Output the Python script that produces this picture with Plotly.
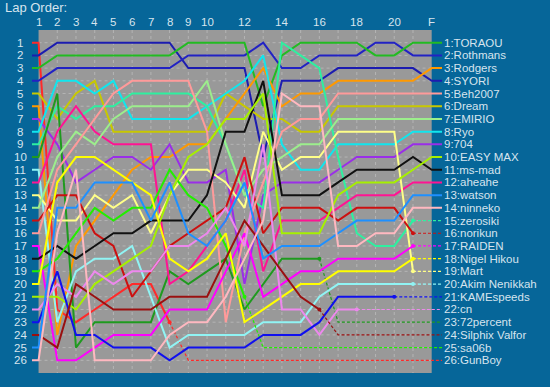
import plotly.graph_objects as go

# ---------------- data ----------------
col_labels = ['1', '2', '3', '4', '5', '6', '7', '8', '9', '10', '', '12', '', '14', '', '16', '', '18', '', '20', '', 'F']
row_labels = [str(i) for i in range(1, 27)]

final_names = ['TORAOU', 'Rothmans', 'Rodgers', 'SYORI', 'Beh2007', 'Dream', 'EMIRIO', 'Ryo', '704',
               'EASY MAX', 'ms-mad', 'aheahe', 'watson', 'ninneko', 'zerosiki', 'norikun', 'RAIDEN',
               'Nigel Hikou', 'Mart', 'Akim Nenikkah', 'KAMEspeeds', 'cn', '72percent', 'Silphix Valfor',
               'sa06b', 'GunBoy']

# positions per lap column (shorter lists = retired)
GunBoy = [1, 22, 23, 22, 21, 20, 20, 23]
SYORI = [2, 1, 1, 1, 1, 1, 1, 1, 3, 3, 3, 3, 10, 4, 4, 4, 3, 3, 3, 3, 3, 4]
Rothmans = [4, 3, 3, 3, 3, 3, 3, 3, 2, 2, 2, 2, 1, 3, 3, 2, 2, 2, 1, 1, 2, 2]
TORAOU = [3, 2, 2, 2, 2, 2, 2, 2, 1, 1, 1, 1, 6, 2, 1, 1, 1, 1, 2, 2, 1, 1]
Dream = [5, 7, 5, 4, 8, 8, 8, 8, 8, 8, 5, 6, 7, 7, 8, 8, 6, 6, 6, 6, 6, 6]
Rodgers = [6, 24, 17, 15, 13, 11, 10, 10, 9, 9, 7, 5, 3, 6, 5, 5, 4, 4, 4, 4, 4, 3]
P704 = [7, 9, 12, 11, 10, 10, 11, 9, 12, 12, 11, 20, 13, 12, 12, 12, 11, 10, 10, 10, 9, 9]
Ryo = [8, 4, 4, 5, 4, 7, 7, 7, 7, 6, 5, 4, 2, 9, 11, 11, 9, 9, 9, 9, 8, 8]
zerosiki = [9, 6, 7, 6, 6, 5, 5, 5, 5, 6, 9, 13, 14, 1, 2, 3, 10, 16, 17, 17, 15]
p72percent = [10, 5, 25, 23, 23, 23, 23, 19, 20, 19, 18, 22, 20, 18, 18, 18]
Akim = [11, 23, 19, 18, 18, 17, 21, 25, 24, 24, 24, 24, 23, 23, 23, 21, 20, 20, 20, 20, 20]
aheahe = [12, 8, 6, 8, 9, 9, 9, 20, 19, 17, 15, 11, 19, 15, 15, 15, 14, 13, 13, 13, 12, 12]
Mart = [13, 15, 15, 13, 14, 13, 16, 13, 11, 11, 12, 14, 8, 11, 10, 10, 8, 8, 8, 8, 19]
EMIRIO = [14, 10, 8, 9, 7, 6, 6, 6, 6, 4, 9, 13, 11, 10, 9, 9, 7, 7, 7, 7, 7, 7]
norikun = [15, 13, 13, 16, 17, 21, 19, 17, 16, 15, 14, 10, 16, 14, 14, 14, 15, 14, 14, 14, 16]
Beh2007 = [16, 11, 9, 7, 5, 4, 4, 4, 4, 8, 23, 16, 12, 8, 7, 7, 5, 5, 5, 5, 5, 5]
RAIDEN = [17, 26, 26, 25, 24, 24, 24, 22, 22, 22, 19, 16, 21, 20, 19, 19, 18, 18, 18, 18, 17]
msmad = [18, 17, 18, 17, 16, 16, 15, 15, 15, 13, 8, 8, 4, 13, 13, 13, 12, 11, 11, 11, 10, 11]
sa06b = [19, 18, 16, 14, 15, 14, 14, 11, 13, 14, 17, 21]
Nigel = [20, 12, 10, 10, 11, 12, 13, 18, 19, 18, 16, 23, 22, 21, 20, 20, 19, 19, 19, 19, 18]
EASYMAX = [21, 21, 22, 20, 19, 18, 17, 13, 10, 9, 7, 7, 5, 16, 16, 16, 13, 12, 12, 12, 11, 10]
cn = [22, 20, 21, 19, 20, 19, 19, 17, 17, 16, 14, 17, 9, 22, 22, 24, 22, 22]
KAME = [23, 19, 24, 24, 25, 25, 25, 26, 25, 25, 25, 25, 24, 24, 24, 23, 21, 21, 21, 21]
Silphix = [24, 25, 20, 21, 22, 22, 22, 21, 21, 21, 18, 15, 17, 19, 21, 22]
watson = [25, 14, 14, 12, 12, 12, 15, 12, 16, 17, 15, 12, 18, 17, 17, 17, 16, 15, 15, 15, 13, 13]
ninneko = [26, 16, 11, 26, 26, 26, 26, 24, 23, 23, 21, 18, 15, 5, 6, 6, 17, 17, 16, 16, 14, 14]

drivers = [
    ('GunBoy', '#ff2a2a', GunBoy),
    ('SYORI', '#1c1cb0', SYORI),
    ('Rothmans', '#2222c4', Rothmans),
    ('TORAOU', '#22bb22', TORAOU),
    ('Dream', '#c8c800', Dream),
    ('Rodgers', '#ff9900', Rodgers),
    ('704', '#9a2ee8', P704),
    ('Ryo', '#10e6ee', Ryo),
    ('zerosiki', '#2ef0a0', zerosiki),
    ('72percent', '#1f9a1f', p72percent),
    ('Akim Nenikkah', '#90f4f4', Akim),
    ('aheahe', '#ff1493', aheahe),
    ('Mart', '#ffff88', Mart),
    ('EMIRIO', '#9cee8c', EMIRIO),
    ('norikun', '#cc1010', norikun),
    ('Beh2007', '#ff9a9a', Beh2007),
    ('RAIDEN', '#ff00ff', RAIDEN),
    ('ms-mad', '#111111', msmad),
    ('sa06b', '#22ee00', sa06b),
    ('Nigel Hikou', '#ffff00', Nigel),
    ('EASY MAX', '#a6f000', EASYMAX),
    ('cn', '#ee88ee', cn),
    ('KAMEspeeds', '#1010ee', KAME),
    ('Silphix Valfor', '#9a1010', Silphix),
    ('watson', '#1e90ff', watson),
    ('ninneko', '#ffb8c0', ninneko),
]

N_COLS = len(col_labels)
N_ROWS = len(row_labels)
X_LEFT, X_RIGHT = -0.35, N_COLS - 1 + 0.55
Y_BOTTOM, Y_TOP = N_ROWS + 1, 0
BG = '#066699'
TXT = '#d6e4ee'
FONT = 'Liberation Sans, Arial, sans-serif'


def px(xv):
    return (xv - X_LEFT) / (X_RIGHT - X_LEFT)


def py(yv):
    return 1 - yv / Y_BOTTOM


fig = go.Figure()
for name, color, laps in drivers:
    final = final_names.index(name) + 1
    n = len(laps)
    finished = n == N_COLS
    xs = [X_LEFT] + list(range(n))
    ys = [laps[0]] + laps
    if finished:
        xs.append(X_RIGHT)
        ys.append(final)
    fig.add_trace(go.Scatter(x=xs, y=ys, mode='lines', line=dict(color=color, width=2),
                             hoverinfo='skip', showlegend=False))
    if not finished:
        fig.add_trace(go.Scatter(x=[n - 1, n, X_RIGHT], y=[laps[-1], final, final], mode='lines',
                                 line=dict(color=color, width=1.2, dash='3px,2px'),
                                 hoverinfo='skip', showlegend=False))
        fig.add_trace(go.Scatter(x=[n - 1], y=[laps[-1]], mode='markers',
                                 marker=dict(color=color, size=4), hoverinfo='skip', showlegend=False))

shapes = [dict(type='rect', xref='x', yref='y', x0=0, x1=N_COLS - 1, y0=0, y1=Y_BOTTOM,
               fillcolor='#999999', line=dict(width=0), layer='below')]
for c in range(1, N_COLS - 1):
    shapes.append(dict(type='line', xref='x', yref='y', x0=c, x1=c, y0=0, y1=Y_BOTTOM,
                       line=dict(color='#b4b4b4', width=1, dash='dot'), layer='below'))
for r in range(1, N_ROWS + 1):
    shapes.append(dict(type='line', xref='x', yref='y', x0=0, x1=N_COLS - 1, y0=r, y1=r,
                       line=dict(color='#b4b4b4', width=1, dash='dot'), layer='below'))

annotations = []
for i, lab in enumerate(row_labels):
    annotations.append(dict(x=px(-0.97), y=py(i + 1), xref='paper', yref='paper', text=lab, showarrow=False,
                            xanchor='center', yanchor='middle', borderpad=0,
                            font=dict(color=TXT, size=11.5, family=FONT)))
for i, nm in enumerate(final_names):
    annotations.append(dict(x=px(21.6), y=py(i + 1), xref='paper', yref='paper', text=f'{i + 1}:{nm}',
                            showarrow=False, xanchor='left', yanchor='middle', borderpad=0,
                            font=dict(color=TXT, size=11.5, family=FONT)))
for c, lab in enumerate(col_labels):
    if lab:
        annotations.append(dict(x=px(c), y=py(-0.6), xref='paper', yref='paper', text=lab, showarrow=False,
                                xanchor='center', yanchor='middle', borderpad=0,
                                font=dict(color=TXT, size=11.5, family=FONT)))

fig.update_layout(
    width=550, height=387, autosize=False,
    margin=dict(l=32, r=108, t=30, b=14, pad=0),
    paper_bgcolor=BG, plot_bgcolor=BG,
    xaxis=dict(range=[X_LEFT, X_RIGHT], showgrid=False, zeroline=False, showticklabels=False,
               fixedrange=True),
    yaxis=dict(range=[Y_BOTTOM, Y_TOP], showgrid=False, zeroline=False, showticklabels=False, fixedrange=True),
    shapes=shapes,
    annotations=annotations,
    title=dict(text='Lap Order:', x=0.009, xanchor='left', y=0.98, yanchor='middle',
               font=dict(color=TXT, size=13, family=FONT)),
)
fig.write_html('out.html')
